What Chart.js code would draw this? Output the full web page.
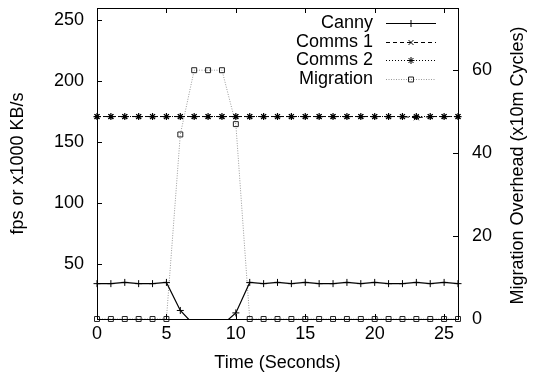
<!DOCTYPE html>
<html><head><meta charset="utf-8">
<script src="https://cdn.jsdelivr.net/npm/chart.js@4/dist/chart.umd.min.js"></script>
<style>html,body{margin:0;padding:0;background:#fff}</style>
</head><body>
<canvas id="c" width="534" height="375"></canvas>
<script>
// ---- data ----
const times     = [0,1,2,3,4,5,6,7,8,9,10,11,12,13,14,15,16,17,18,19,20,21,22,23,24,25,26];
const canny     = [34,34,35,34,34,35,12,0,0,0,10,35,34,35,34,35,34,34,35,34,35,34,34,35,34,35,34];
const comms1    = [171,171,171,171,171,171,171,171,171,171,171,171,171,171,171,171,171,171,171,171,171,171,171,170,171,171,171];
const comms2    = [171,171,171,171,171,171,171,171,171,171,171,171,171,171,171,171,171,171,171,171,171,171,171,171,171,171,171];
const migration = [0,0,0,0,0,0,44.5,60,60,60,47,0,0,0,0,0,0,0,0,0,0,0,0,0,0,0,0];
const xTicks  = [0,5,10,15,20,25];
const yTicks  = [50,100,150,200,250];
const y2Ticks = [0,20,40,60];
const seriesNames = ['Canny','Comms 1','Comms 2','Migration'];

const FONT = 'Liberation Sans, Arial, Helvetica, sans-serif';
const pts = arr => arr.map((v,i)=>({x:times[i], y:v}));
const noPad = s => { s.paddingTop=0; s.paddingBottom=0; s.paddingLeft=0; s.paddingRight=0; };

const frameTicks = {
  id:'frameTicks',
  afterDatasetsDraw(chart){
    const {ctx, chartArea:a, scales} = chart;
    ctx.save();
    ctx.strokeStyle='#000'; ctx.lineWidth=1; ctx.setLineDash([]);
    const L=5;
    ctx.beginPath();
    xTicks.forEach(v=>{
      const px=Math.round(scales.x.getPixelForValue(v))+0.5;
      ctx.moveTo(px,a.bottom); ctx.lineTo(px,a.bottom-L);
      ctx.moveTo(px,a.top); ctx.lineTo(px,a.top+L);
    });
    yTicks.forEach(v=>{
      const py=Math.round(scales.y.getPixelForValue(v))+0.5;
      ctx.moveTo(a.left,py); ctx.lineTo(a.left+L,py);
    });
    y2Ticks.forEach(v=>{
      const py=Math.round(scales.y2.getPixelForValue(v))+0.5;
      ctx.moveTo(a.right,py); ctx.lineTo(a.right-L,py);
    });
    ctx.stroke();
    ctx.strokeRect(Math.round(a.left)+0.5, Math.round(a.top)+0.5, Math.round(a.right-a.left), Math.round(a.bottom-a.top));
    // right axis title (reads bottom-to-top)
    ctx.fillStyle='#000';
    ctx.font='18px '+FONT;
    ctx.textAlign='center'; ctx.textBaseline='middle';
    ctx.translate(518,(a.top+a.bottom)/2+2);
    ctx.rotate(-Math.PI/2);
    ctx.fillText('Migration Overhead (x10m Cycles)',0,0);
    ctx.restore();
  }
};

const legendPlugin = {
  id:'customLegend',
  afterDraw(chart){
    const {ctx} = chart;
    ctx.save();
    ctx.font='18px '+FONT;
    ctx.textAlign='right'; ctx.textBaseline='middle';
    chart.data.datasets.forEach((ds,i)=>{
      const y = 23 + i*18.7;
      const yl = Math.round(y)+0.5;
      ctx.fillStyle='#000';
      ctx.fillText(ds.label, 373, y);
      ctx.strokeStyle=ds.borderColor; ctx.lineWidth=ds.borderWidth;
      ctx.setLineDash(ds.borderDash||[]);
      ctx.beginPath(); ctx.moveTo(386,yl); ctx.lineTo(436,yl); ctx.stroke();
      ctx.setLineDash([]);
      ctx.strokeStyle=ds.pointBorderColor;
      ctx.fillStyle='rgba(0,0,0,0)';
      ctx.lineWidth=1;
      Chart.helpers.drawPoint(ctx,{pointStyle:ds.pointStyle, radius:ds.pointRadius, borderWidth:1, rotation:0}, 411, yl);
    });
    ctx.restore();
  }
};

new Chart(document.getElementById('c'),{
  type:'line',
  data:{datasets:[
    {label:seriesNames[0], data:pts(canny), yAxisID:'y', borderColor:'#000', borderWidth:1.2,
     pointStyle:'cross', pointRadius:3.5, pointBorderColor:'#000', pointBorderWidth:1, pointBackgroundColor:'rgba(0,0,0,0)',
     clip:{left:6,top:6,right:6,bottom:0}},
    {label:seriesNames[1], data:pts(comms1), yAxisID:'y', borderColor:'#000', borderWidth:1, borderDash:[4,3],
     pointStyle:'crossRot', pointRadius:3.5, pointBorderColor:'#000', pointBorderWidth:1, pointBackgroundColor:'rgba(0,0,0,0)', clip:false},
    {label:seriesNames[2], data:pts(comms2), yAxisID:'y', borderColor:'#000', borderWidth:1, borderDash:[1,2],
     pointStyle:'star', pointRadius:3.5, pointBorderColor:'#000', pointBorderWidth:1.2, pointBackgroundColor:'rgba(0,0,0,0)', clip:false},
    {label:seriesNames[3], data:pts(migration), yAxisID:'y2', borderColor:'#999', borderWidth:1, borderDash:[1,1.5],
     pointStyle:'rect', pointRadius:3.5, pointBorderColor:'#222', pointBorderWidth:1, pointBackgroundColor:'rgba(0,0,0,0)', clip:false}
  ]},
  options:{
    responsive:false, animation:false, devicePixelRatio:1,
    layout:{padding:{top:8,left:0,right:0,bottom:0}},
    plugins:{legend:{display:false}, tooltip:{enabled:false}},
    elements:{line:{tension:0, fill:false}},
    scales:{
      x:{type:'linear', min:0, max:26,
        afterBuildTicks:s=>{s.ticks=xTicks.map(v=>({value:v}));},
        afterFit:s=>{s.height=56; noPad(s);},
        grid:{display:false, drawTicks:false}, border:{display:false},
        ticks:{color:'#000', font:{family:FONT,size:18}, padding:4, maxRotation:0, autoSkip:false},
        title:{display:true, text:'Time (Seconds)', color:'#000', font:{family:FONT,size:18}, padding:{top:0,bottom:1}}
      },
      y:{type:'linear', position:'left', min:5, max:260,
        afterBuildTicks:s=>{s.ticks=yTicks.map(v=>({value:v}));},
        afterFit:s=>{s.width=97; noPad(s);},
        grid:{display:false, drawTicks:false}, border:{display:false},
        ticks:{color:'#000', font:{family:FONT,size:18}, padding:13, autoSkip:false},
        title:{display:true, text:'fps or x1000 KB/s', color:'#000', font:{family:FONT,size:18}, padding:{top:7,bottom:0}}
      },
      y2:{type:'linear', position:'right', min:0, max:75,
        afterBuildTicks:s=>{s.ticks=y2Ticks.map(v=>({value:v}));},
        afterFit:s=>{s.width=76; noPad(s);},
        grid:{display:false, drawTicks:false}, border:{display:false},
        ticks:{color:'#000', font:{family:FONT,size:18}, padding:14, autoSkip:false}
      }
    }
  },
  plugins:[frameTicks, legendPlugin]
});
</script>
</body></html>
